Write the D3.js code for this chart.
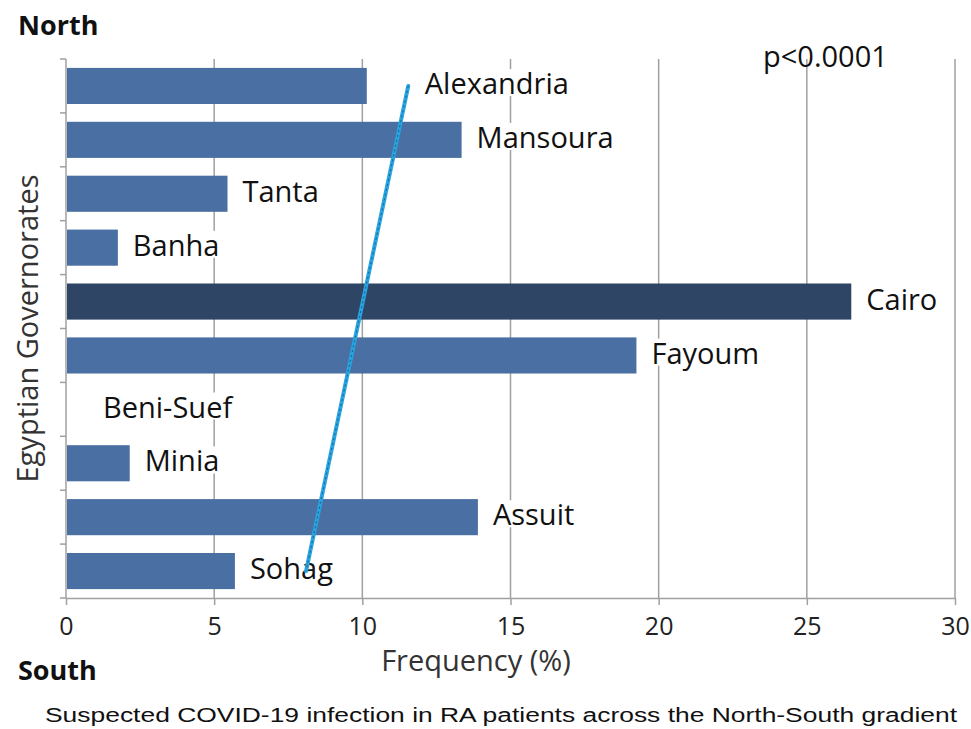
<!DOCTYPE html>
<html>
<head>
<meta charset="utf-8">
<script src="https://cdn.jsdelivr.net/npm/d3@7"></script>
<style>
    body { margin: 0; background: #fff; }
    svg { display: block; font-family: "Open Sans", sans-serif; }
</style>
</head>
<body>
<svg id="chart" width="971" height="729"></svg>
<script>
// governorates, north to south
const categories = ['Alexandria', 'Mansoura', 'Tanta', 'Banha', 'Cairo', 'Fayoum', 'Beni-Suef', 'Minia', 'Assuit', 'Sohag'];
const frequency = [10.15, 13.35, 5.45, 1.75, 26.5, 19.25, 0, 2.15, 13.9, 5.7];
const xticks = [0, 5, 10, 15, 20, 25, 30];
// trend line, value at first and last governorate
const trend = [11.55, 8.1];

const config = {
    left: 66, right: 955, top: 59, bottom: 598,
    bar: '#4a6fa3', highlight: '#2e4566', grid: '#a0a0a0',
};

// label offsets to the right of the bar end (some pushed past the trend line)
const label_dx = { 'Alexandria': 58, 'Beni-Suef': 37 };

const svg = d3.select('svg#chart');

const x = d3.scaleLinear().domain([0, 30]).range([config.left, config.right]);
const y = d3.scaleBand().domain(categories)
    .range([config.top, config.bottom])
    .paddingInner(0.33).paddingOuter(0.165);
const gap = (y.step() - y.bandwidth()) / 2;

// grid lines
svg.append('g').selectAll('line').data(xticks.slice(1)).join('line')
    .attr('x1', d => x(d)).attr('x2', d => x(d))
    .attr('y1', config.top).attr('y2', config.bottom)
    .attr('stroke', config.grid).attr('stroke-width', 1.5);

// x axis
const axis_x = svg.append('g').attr('transform', 'translate(0,' + config.bottom + ')')
    .call(d3.axisBottom(x).tickValues(xticks).tickSize(7).tickPadding(12).tickSizeOuter(0));
axis_x.select('.domain').attr('stroke', config.grid).attr('stroke-width', 1.5);
axis_x.selectAll('.tick line').attr('stroke', config.grid).attr('stroke-width', 1.5);
axis_x.selectAll('.tick text').attr('font-family', '"Open Sans", sans-serif')
    .attr('font-size', 25).attr('fill', '#222');

// y axis line and ticks between the bands
const yaxis = svg.append('g');
yaxis.append('line')
    .attr('x1', config.left).attr('x2', config.left)
    .attr('y1', config.top).attr('y2', config.bottom)
    .attr('stroke', config.grid).attr('stroke-width', 1.5);
const yticks = categories.map(c => y(c) - gap).concat([config.bottom]);
yaxis.selectAll('line.tick').data(yticks).join('line').classed('tick', true)
    .attr('x1', config.left - 6).attr('x2', config.left)
    .attr('y1', d => d).attr('y2', d => d)
    .attr('stroke', config.grid).attr('stroke-width', 1.5);

// bars
const data = categories.map((c, i) => ({ name: c, value: frequency[i] }));
svg.append('g').selectAll('rect').data(data.filter(d => d.value > 0)).join('rect')
    .attr('x', x(0) + 1)
    .attr('y', d => y(d.name))
    .attr('width', d => x(d.value) - x(0) - 1)
    .attr('height', y.bandwidth())
    .attr('fill', d => d.name == 'Cairo' ? config.highlight : config.bar);

// labels with white background so the grid breaks behind them
const labels = svg.append('g').selectAll('g').data(data).join('g');
labels.append('rect').attr('fill', '#fff');
labels.append('text')
    .attr('x', d => x(d.value) + (label_dx[d.name] || 15))
    .attr('y', d => y(d.name) + y.bandwidth() / 2 - 2)
    .attr('dy', '0.35em')
    .attr('font-size', 29).attr('fill', '#111')
    .text(d => d.name);
labels.each(function() {
    const g = d3.select(this);
    const b = g.select('text').node().getBBox();
    g.select('rect').attr('x', b.x - 3).attr('y', b.y + 6)
        .attr('width', b.width + 6).attr('height', b.height - 12);
});

// trend line
const first = categories[0], last = categories[categories.length - 1];
const tline = svg.append('g');
tline.append('line')
    .attr('x1', x(trend[0])).attr('y1', y(first) + y.bandwidth() / 2)
    .attr('x2', x(trend[1])).attr('y2', y(last) + y.bandwidth() / 2)
    .attr('stroke', '#27a3df').attr('stroke-width', 4).attr('stroke-linecap', 'round');
tline.append('line')
    .attr('x1', x(trend[0])).attr('y1', y(first) + y.bandwidth() / 2)
    .attr('x2', x(trend[1])).attr('y2', y(last) + y.bandwidth() / 2)
    .attr('stroke', '#1b5f8f').attr('stroke-width', 1).attr('stroke-dasharray', '2,3');

// texts
svg.append('text').attr('x', 18).attr('y', 35)
    .attr('font-size', 27).attr('font-weight', 'bold').attr('fill', '#111').text('North');
svg.append('text').attr('x', 18).attr('y', 680)
    .attr('font-size', 27).attr('font-weight', 'bold').attr('fill', '#111').text('South');
svg.append('text').attr('x', 763).attr('y', 67)
    .attr('font-size', 29).attr('fill', '#111').text('p<0.0001');
svg.append('text').attr('x', 476).attr('y', 671)
    .attr('text-anchor', 'middle').attr('font-size', 29).attr('fill', '#333')
    .text('Frequency (%)');
svg.append('text')
    .attr('transform', 'translate(38,' + ((config.top + config.bottom) / 2) + ') rotate(-90)')
    .attr('text-anchor', 'middle').attr('font-size', 29).attr('fill', '#333')
    .text('Egyptian Governorates');
svg.append('text').attr('x', 45).attr('y', 722)
    .attr('font-family', '"Liberation Sans", Arial, sans-serif')
    .attr('font-size', 19.5).attr('fill', '#111')
    .attr('textLength', 912).attr('lengthAdjust', 'spacingAndGlyphs')
    .text('Suspected COVID-19 infection in RA patients across the North-South gradient');
</script>
</body>
</html>
